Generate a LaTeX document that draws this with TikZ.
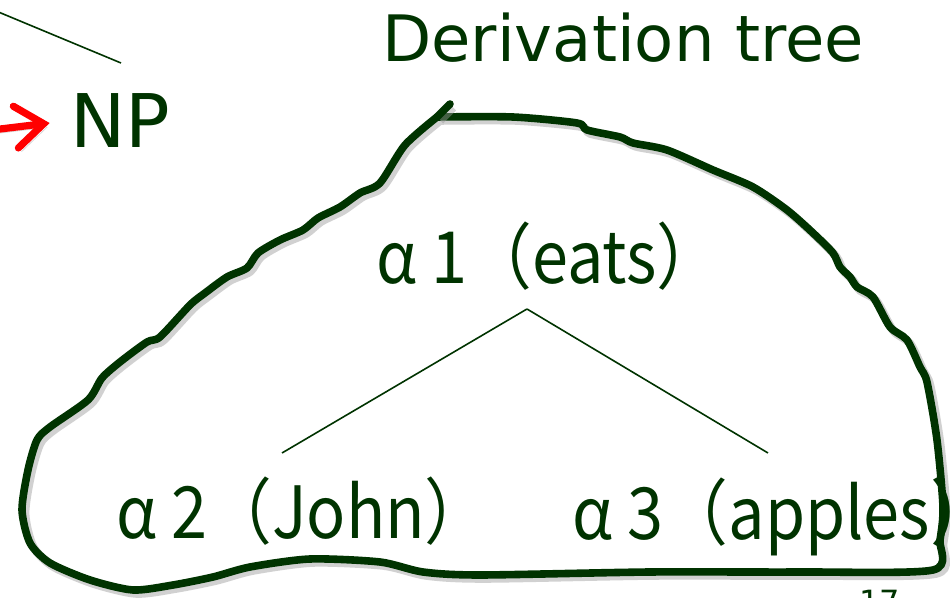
\documentclass[tikz,border=0pt]{standalone}
\usepackage{fontspec}
\usepackage{xcolor}
\usetikzlibrary{arrows.meta,positioning}
\newfontfamily\titlefont{DejaVu Sans}
\newfontfamily\cjkfont[FakeStretch=0.9]{Noto Sans CJK JP}
\definecolor{Ink}{HTML}{003300}
\definecolor{Alarm}{HTML}{FF0000}
\definecolor{Shade}{HTML}{9A9A9A}
\tikzset{
  heading/.style={font=\titlefont\fontsize{#1}{#1}\selectfont, text=Ink, inner sep=0pt, anchor=base},
  heading/.default=32pt,
  treelabel/.style={font=\cjkfont\fontsize{36pt}{40pt}\selectfont, text=Ink, inner sep=0pt, anchor=base},
  branch/.style={draw=Ink, line width=0.8pt},
  blob/.style={draw=Ink, line width=3.8pt, line join=round, line cap=round,
    preaction={draw=Shade, opacity=0.45, line width=4.2pt, transform canvas={shift={(1.6pt,-1.8pt)}}}},
  redarrow/.style={-{Straight Barb[length=14pt,width=21pt,line cap=round]}, draw=Alarm, line width=3.6pt, line cap=round,
    preaction={draw=Shade, opacity=0.4, transform canvas={shift={(1.6pt,-1.8pt)}}}}
}
\begin{document}
\begin{tikzpicture}[x=0.5pt, y=-0.5pt]
  \useasboundingbox (0,0) rectangle (950,598);

  \node[heading] (title) at (623,62) {Derivation tree};
  \node[heading=37pt] (np) at (120,148) {NP};
  \node[heading=16pt, anchor=north] (page) at (880,590) {17};

  \coordinate (cutA) at (-4,11);
  \coordinate (cutB) at (121,63);
  \draw[branch] (cutA) -- (cutB);

  \coordinate (arrtail) at (-8,130);
  \draw[redarrow] (arrtail) -- ([xshift=-10pt, yshift=-1pt]np.west);

  \draw[blob] plot[smooth, tension=0.45] coordinates {
    (437,117) (513,117) (577,123) (587,130) (620,137) (633,143) (667,150) (713,170)
    (753,187) (787,210) (813,233) (833,253) (840,267) (850,277) (857,287) (873,297)
    (890,327) (907,340) (920,367) (927,382) (937,440) (943,507) (940,540) (933,570)
    (800,572) (650,572) (480,575) (423,572) (380,562) (310,559) (250,567) (213,577)
    (173,585) (133,590) (90,580) (50,563) (30,543) (22,510) (28,470) (37,440)
    (50,427) (88,400) (102,378) (120,362) (147,342) (160,337) (190,305) (205,293)
    (227,277) (247,268) (258,253) (280,240) (303,230) (318,218) (340,207) (360,193)
    (380,183) (405,145) (437,117)};
  \draw[blob] (437,117) -- (450,104);

  \node[treelabel] (a1) at (549,284) {α 1（eats）};
  \node[treelabel] (a2) at (303,539) {α 2（John）};
  \node[treelabel] (a3) at (784,540) {α 3（apples）};

  \draw[branch] ([xshift=-11pt, yshift=-12.5pt]a1.base) -- ([xshift=-10.5pt, yshift=43pt]a2.base);
  \draw[branch] ([xshift=-11pt, yshift=-12.5pt]a1.base) -- ([xshift=-8pt, yshift=43.5pt]a3.base);
\end{tikzpicture}
\end{document}
